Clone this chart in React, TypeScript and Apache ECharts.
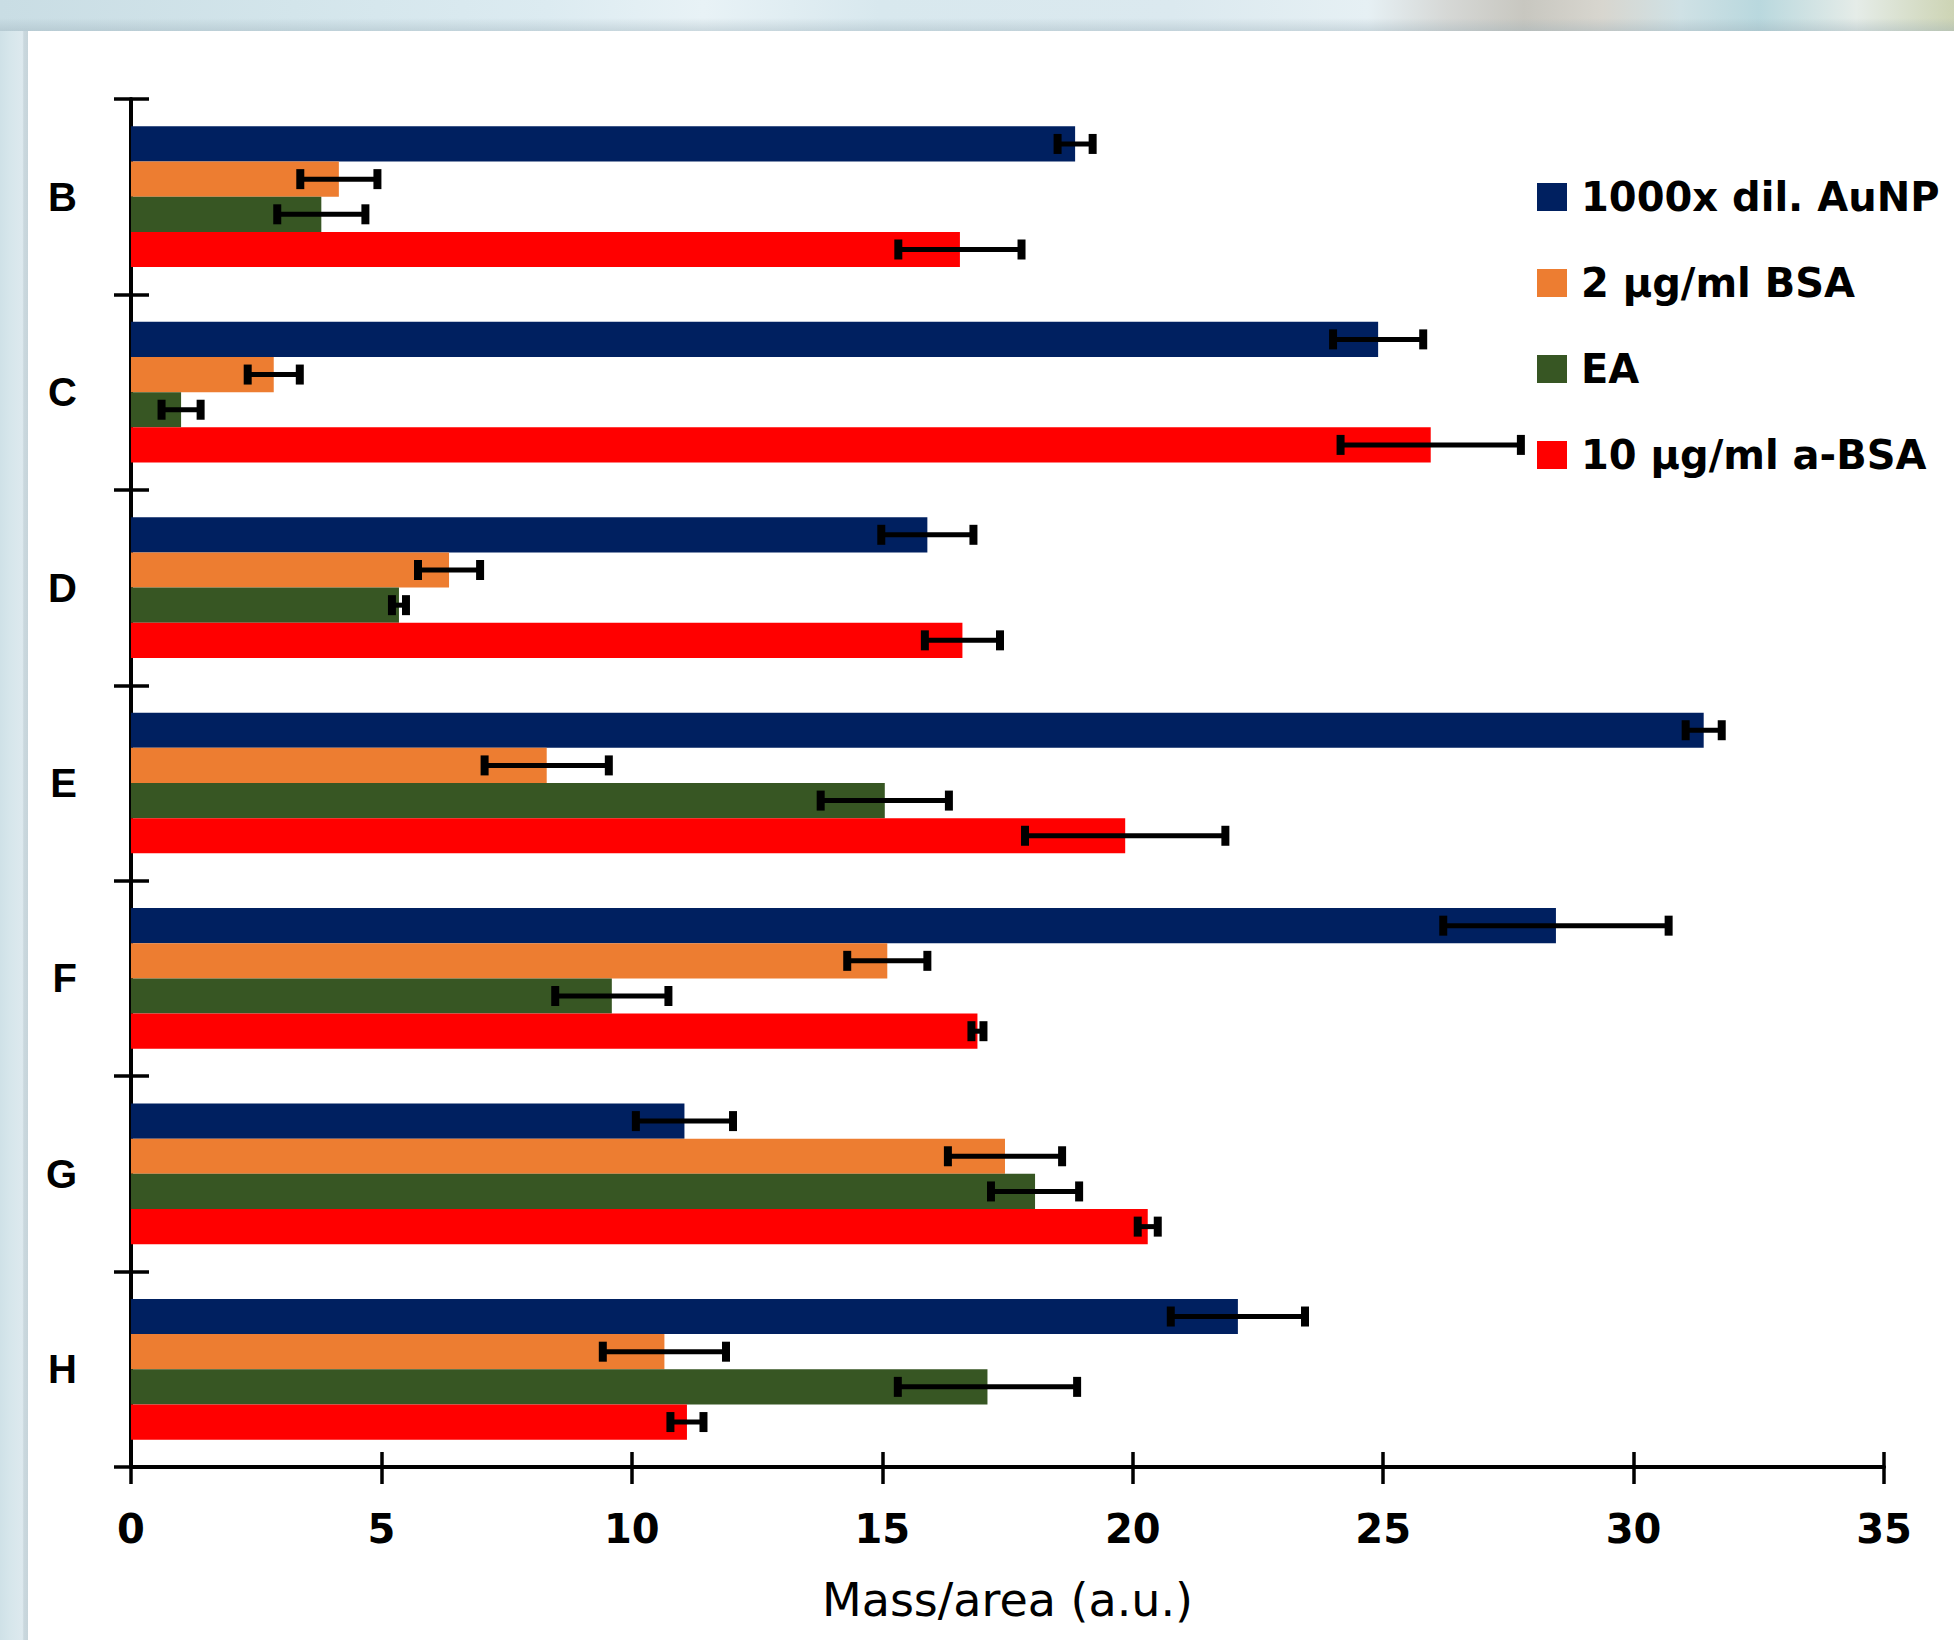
import React, { useEffect, useRef } from 'react';
import * as echarts from 'echarts';

const categories = ['B', 'C', 'D', 'E', 'F', 'G', 'H'];
const seriesNames = ['1000x dil. AuNP', '2 µg/ml BSA', 'EA', '10 µg/ml a-BSA'];
const seriesColors = ['#002060', '#ED7D31', '#375623', '#FF0000'];

const aunp = [18.85, 24.9, 15.9, 31.4, 28.45, 11.05, 22.1];
const aunpErr = [0.35, 0.9, 0.92, 0.36, 2.25, 0.97, 1.34];
const bsa = [4.15, 2.85, 6.35, 8.3, 15.1, 17.45, 10.65];
const bsaErr = [0.77, 0.52, 0.62, 1.24, 0.8, 1.14, 1.23];
const ea = [3.8, 1.0, 5.35, 15.05, 9.6, 18.05, 17.1];
const eaErr = [0.88, 0.39, 0.14, 1.28, 1.13, 0.88, 1.79];
const absa = [16.55, 25.95, 16.6, 19.85, 16.9, 20.3, 11.1];
const absaErr = [1.23, 1.8, 0.75, 2.0, 0.12, 0.2, 0.33];

const xMin = 0;
const xMax = 35;
const xInterval = 5;
const xName = 'Mass/area (a.u.)';

const allValues = [aunp, bsa, ea, absa];
const allErrs = [aunpErr, bsaErr, eaErr, absaErr];

export default function App() {
  const ref = useRef<HTMLDivElement>(null);
  useEffect(() => {
    if (!ref.current) return;
    const chart = echarts.init(ref.current, null, { renderer: 'svg' });

    const errData: number[][] = [];
    allValues.forEach((vals, s) => {
      vals.forEach((v, c) => {
        errData.push([v, c, allErrs[s][c], s]);
      });
    });

    const nSeries = allValues.length;
    const catGap = 0.28;
    const barFrac = (1 - catGap) / nSeries;

    const option: any = {
      animation: false,
      backgroundColor: '#ffffff',
      graphic: {
        elements: [
          {
            type: 'rect', z: -10, silent: true,
            shape: { x: 0, y: 0, width: 1954, height: 31 },
            style: {
              fill: new echarts.graphic.LinearGradient(0, 0, 1, 0, [
                { offset: 0, color: '#c9dde4' },
                { offset: 0.15, color: '#d3e5eb' },
                { offset: 0.28, color: '#dcebf1' },
                { offset: 0.36, color: '#e8f2f6' },
                { offset: 0.45, color: '#d8e8ee' },
                { offset: 0.6, color: '#dbe9ef' },
                { offset: 0.7, color: '#e6f0f4' },
                { offset: 0.74, color: '#d6d8d6' },
                { offset: 0.78, color: '#c8c7c0' },
                { offset: 0.82, color: '#d8d6cf' },
                { offset: 0.86, color: '#cfe1e5' },
                { offset: 0.9, color: '#b9d8de' },
                { offset: 0.95, color: '#e5ece8' },
                { offset: 1, color: '#cdd4b4' },
              ]),
            },
          },
          {
            type: 'rect', z: -9, silent: true,
            shape: { x: 0, y: 18, width: 1954, height: 13 },
            style: {
              fill: new echarts.graphic.LinearGradient(0, 0, 0, 1, [
                { offset: 0, color: 'rgba(150,170,180,0)' },
                { offset: 1, color: 'rgba(150,170,180,0.35)' },
              ]),
            },
          },
          {
            type: 'rect', z: -10, silent: true,
            shape: { x: 0, y: 31, width: 28, height: 1609 },
            style: {
              fill: new echarts.graphic.LinearGradient(0, 0, 1, 0, [
                { offset: 0, color: '#cfe1e7' },
                { offset: 0.35, color: '#d6e6eb' },
                { offset: 0.8, color: '#dde9ee' },
                { offset: 0.85, color: '#cad8de' },
                { offset: 1, color: '#c6d4da' },
              ]),
            },
          },
        ],
      },
      grid: { left: 131, right: 70, top: 99, bottom: 173, containLabel: false },
      legend: {
        orient: 'vertical',
        left: 1537,
        top: 172,
        itemWidth: 30,
        itemHeight: 28,
        itemGap: 36,
        icon: 'rect',
        padding: 0,
        data: seriesNames,
        textStyle: {
          fontFamily: 'DejaVu Sans',
          fontWeight: 'bold',
          fontSize: 40,
          color: '#000',
          lineHeight: 50,
          padding: [0, 0, 0, 9],
        },
      },
      xAxis: [
        {
          type: 'value',
          min: xMin,
          max: xMax,
          interval: xInterval,
          position: 'bottom',
          name: xName,
          nameLocation: 'middle',
          nameGap: 110,
          nameTextStyle: { fontFamily: 'DejaVu Sans', fontSize: 46, color: '#000' },
          axisLine: { show: true, lineStyle: { color: '#000', width: 4 } },
          axisTick: { show: true, inside: false, length: 17, lineStyle: { color: '#000', width: 3.5 } },
          axisLabel: { show: true, margin: 42, fontFamily: 'DejaVu Sans', fontWeight: 'bold', fontSize: 40, color: '#000' },
          splitLine: { show: false },
        },
        {
          type: 'value',
          min: xMin,
          max: xMax,
          interval: xInterval,
          position: 'bottom',
          axisLine: { show: false },
          axisTick: { show: true, inside: true, length: 15, lineStyle: { color: '#000', width: 3.5 } },
          axisLabel: { show: false },
          splitLine: { show: false },
        },
      ],
      yAxis: [
        {
          type: 'category',
          data: categories,
          inverse: true,
          position: 'left',
          axisLine: { show: true, lineStyle: { color: '#000', width: 4 } },
          axisTick: { show: true, inside: false, length: 17, lineStyle: { color: '#000', width: 3.5 } },
          axisLabel: { margin: 54, fontFamily: 'Liberation Sans', fontWeight: 'bold', fontSize: 40, color: '#000' },
          splitLine: { show: false },
        },
        {
          type: 'category',
          data: categories,
          inverse: true,
          position: 'left',
          axisLine: { show: false },
          axisTick: { show: true, inside: true, length: 18, lineStyle: { color: '#000', width: 3.5 } },
          axisLabel: { show: false },
          splitLine: { show: false },
        },
      ],
      series: [
        ...allValues.map((vals, s) => ({
          name: seriesNames[s],
          type: 'bar',
          xAxisIndex: 0,
          yAxisIndex: 0,
          data: vals,
          barGap: '0%',
          barCategoryGap: '28%',
          itemStyle: { color: seriesColors[s] },
          z: 2,
        })),
        {
          name: 'errors',
          type: 'custom',
          xAxisIndex: 0,
          yAxisIndex: 0,
          z: 5,
          data: errData,
          encode: { x: 0, y: 1 },
          renderItem: (params: any, api: any) => {
            const v = api.value(0);
            const c = api.value(1);
            const e = api.value(2);
            const s = api.value(3);
            const p = api.coord([v, c]);
            const band = api.size([0, 1])[1];
            const y = p[1] + (-(1 - catGap) / 2 + barFrac * (s + 0.5)) * band;
            const xl = api.coord([v - e, c])[0];
            const xr = api.coord([v + e, c])[0];
            return {
              type: 'group',
              children: [
                { type: 'line', shape: { x1: xl, y1: y, x2: xr, y2: y }, style: { stroke: '#000', lineWidth: 5 } },
                { type: 'rect', shape: { x: xl - 4, y: y - 10, width: 8, height: 20 }, style: { fill: '#000' } },
                { type: 'rect', shape: { x: xr - 4, y: y - 10, width: 8, height: 20 }, style: { fill: '#000' } },
              ],
            };
          },
        },
      ],
    };

    chart.setOption(option);
    return () => chart.dispose();
  }, []);
  return <div ref={ref} style={{ position: 'absolute', left: 0, top: 0, width: 1954, height: 1640 }} />;
}
